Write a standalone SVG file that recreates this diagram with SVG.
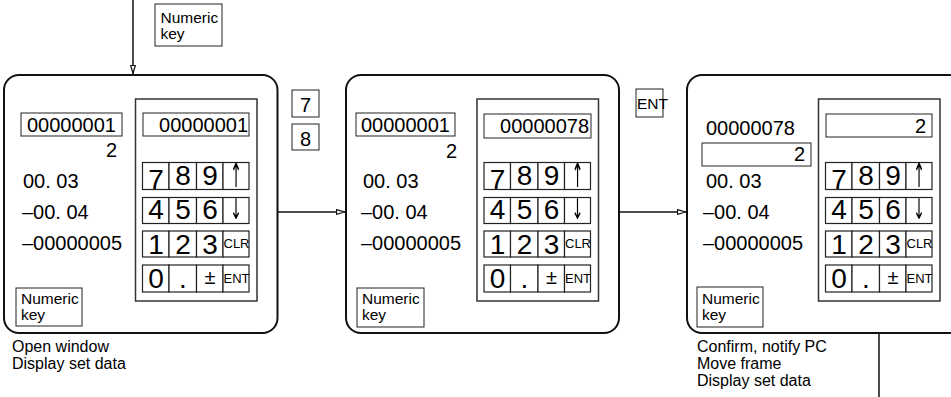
<svg xmlns="http://www.w3.org/2000/svg" xmlns:xlink="http://www.w3.org/1999/xlink" width="951" height="397" viewBox="0 0 951 397">
<style>
  text { font-family: "Liberation Sans", Arial, sans-serif; fill: #000; }
  .panel { fill: #fff; stroke: #111; stroke-width: 2; }
  .frame { fill: #fff; stroke: #333; stroke-width: 1.5; }
  .box { fill: #fff; stroke: #222; stroke-width: 1; }
  .cell { fill: #fff; stroke: #222; stroke-width: 1.2; }
  .big { font-size: 20px; }
  .lbl { font-size: 15.5px; }
  .cap { font-size: 16px; }
  .key { font-size: 28px; text-anchor: middle; }
  .arr { font-family: "DejaVu Sans", sans-serif; font-size: 26px; text-anchor: middle; font-weight: normal; filter: url(#gray); }
  .sk { font-size: 13px; }
  .conn { stroke: #111; stroke-width: 1.5; fill: none; }
</style>
<defs>
  <filter id="gray" x="-50%" y="-50%" width="200%" height="200%">
    <feColorMatrix type="saturate" values="0"/>
  </filter>
  <marker id="ah" viewBox="0 0 9 6" refX="9" refY="3" markerWidth="9" markerHeight="6" markerUnits="userSpaceOnUse" orient="auto">
    <path d="M0.5,0.7 L8.5,3 L0.5,5.3 Z" fill="#fff" stroke="#111" stroke-width="1.2"/>
  </marker>
  <g id="keys">
    <rect class="frame" x="135.5" y="99" width="121.5" height="202"/>
    <g class="cells">
      <rect class="cell" x="142.5" y="162.5" width="26.5" height="27"/>
      <rect class="cell" x="169" y="162.5" width="27.5" height="27"/>
      <rect class="cell" x="196.5" y="162.5" width="26.5" height="27"/>
      <rect class="cell" x="223" y="162.5" width="26" height="27"/>
      <rect class="cell" x="142.5" y="197.5" width="26.5" height="26"/>
      <rect class="cell" x="169" y="197.5" width="27.5" height="26"/>
      <rect class="cell" x="196.5" y="197.5" width="26.5" height="26"/>
      <rect class="cell" x="223" y="197.5" width="26" height="26"/>
      <rect class="cell" x="142.5" y="231" width="26.5" height="26"/>
      <rect class="cell" x="169" y="231" width="27.5" height="26"/>
      <rect class="cell" x="196.5" y="231" width="26.5" height="26"/>
      <rect class="cell" x="223" y="231" width="26" height="26"/>
      <rect class="cell" x="142.5" y="265" width="26.5" height="27"/>
      <rect class="cell" x="169" y="265" width="27.5" height="27"/>
      <rect class="cell" x="196.5" y="265" width="26.5" height="27"/>
      <rect class="cell" x="223" y="265" width="26" height="27"/>
    </g>
    <text class="key" x="156" y="189">7</text>
    <text class="key" x="183" y="185">8</text>
    <text class="key" x="210" y="185">9</text>
    <text class="arr" transform="translate(236,186.5) scale(0.55,1.3)">↑</text>
    <text class="key" x="156" y="219">4</text>
    <text class="key" x="183" y="219">5</text>
    <text class="key" x="210" y="219">6</text>
    <text class="arr" transform="translate(236,219) scale(0.55,1.1)">↓</text>
    <text class="key" x="156" y="254">1</text>
    <text class="key" x="183" y="254">2</text>
    <text class="key" x="210" y="254">3</text>
    <text class="sk" x="223.5" y="248">CLR</text>
    <text class="key" x="156" y="288">0</text>
    <text class="key" x="183" y="288">.</text>
    <text class="key" x="210" y="284" style="font-size:20px">±</text>
    <text class="sk" x="223.5" y="283">ENT</text>
  </g>
</defs>

<g id="connectors">
  <line class="conn" x1="133" y1="0" x2="133" y2="74" marker-end="url(#ah)"/>
  <line class="conn" x1="278" y1="212" x2="345" y2="212" marker-end="url(#ah)"/>
  <line class="conn" x1="620" y1="212" x2="686" y2="212" marker-end="url(#ah)"/>
  <line class="conn" x1="879" y1="333" x2="879" y2="397"/>
</g>

<g id="key-top">
  <rect class="box" x="155" y="4" width="67" height="42"/>
  <text class="lbl" x="160.5" y="23">Numeric</text>
  <text class="lbl" x="160.5" y="39">key</text>
</g>

<g id="panel1">
  <rect class="panel" x="4" y="75" width="273.5" height="258" rx="15"/>
  <rect class="box" x="21" y="113" width="101" height="23"/>
  <text class="big" x="27" y="132">00000001</text>
  <text class="big" x="117" y="157" text-anchor="end">2</text>
  <text class="big" x="23" y="188">00. 03</text>
  <text class="big" x="22" y="219">–00. 04</text>
  <text class="big" x="22" y="250">–00000005</text>
  <use xlink:href="#keys"/>
  <rect class="box" x="143" y="113" width="106" height="23"/>
  <text class="big" x="248" y="132" text-anchor="end">00000001</text>
  <rect class="box" x="16" y="288" width="66" height="38"/>
  <text class="lbl" x="21" y="304">Numeric</text>
  <text class="lbl" x="21" y="320">key</text>
</g>

<g id="keys-78">
  <rect class="box" x="292" y="90" width="27" height="27"/>
  <text class="big" x="305.5" y="112" text-anchor="middle">7</text>
  <rect class="box" x="292" y="124" width="27" height="26"/>
  <text class="big" x="305.5" y="146" text-anchor="middle">8</text>
</g>

<g id="panel2">
  <rect class="panel" x="346" y="75" width="273" height="258" rx="15"/>
  <rect class="box" x="356" y="113" width="99" height="23"/>
  <text class="big" x="361" y="132">00000001</text>
  <text class="big" x="457" y="158" text-anchor="end">2</text>
  <text class="big" x="363" y="188">00. 03</text>
  <text class="big" x="361" y="219">–00. 04</text>
  <text class="big" x="361" y="250">–00000005</text>
  <use xlink:href="#keys" transform="translate(341.5,0)"/>
  <rect class="box" x="484" y="114" width="107" height="24"/>
  <text class="big" x="589" y="133" text-anchor="end">00000078</text>
  <rect class="box" x="357" y="288" width="67" height="39"/>
  <text class="lbl" x="362" y="304">Numeric</text>
  <text class="lbl" x="362" y="320">key</text>
</g>

<g id="key-ent">
  <rect class="box" x="636" y="89" width="27" height="28"/>
  <text class="lbl" x="637" y="109">ENT</text>
</g>

<g id="panel3">
  <rect class="panel" x="687" y="75" width="320" height="258" rx="15"/>
  <text class="big" x="706" y="135">00000078</text>
  <rect class="box" x="702" y="143" width="109" height="23"/>
  <text class="big" x="805" y="161" text-anchor="end">2</text>
  <text class="big" x="706" y="188">00. 03</text>
  <text class="big" x="703" y="219">–00. 04</text>
  <text class="big" x="703" y="250">–00000005</text>
  <use xlink:href="#keys" transform="translate(683,0)"/>
  <rect class="box" x="826" y="114" width="106" height="23"/>
  <text class="big" x="926" y="133" text-anchor="end">2</text>
  <rect class="box" x="697" y="287" width="66" height="40"/>
  <text class="lbl" x="702" y="304">Numeric</text>
  <text class="lbl" x="702" y="320">key</text>
</g>

<g id="caption1">
  <text class="cap" x="12" y="352">Open window</text>
  <text class="cap" x="12" y="369">Display set data</text>
</g>
<g id="caption3">
  <text class="cap" x="697" y="352">Confirm, notify PC</text>
  <text class="cap" x="697" y="369">Move frame</text>
  <text class="cap" x="697" y="386">Display set data</text>
</g>
</svg>
